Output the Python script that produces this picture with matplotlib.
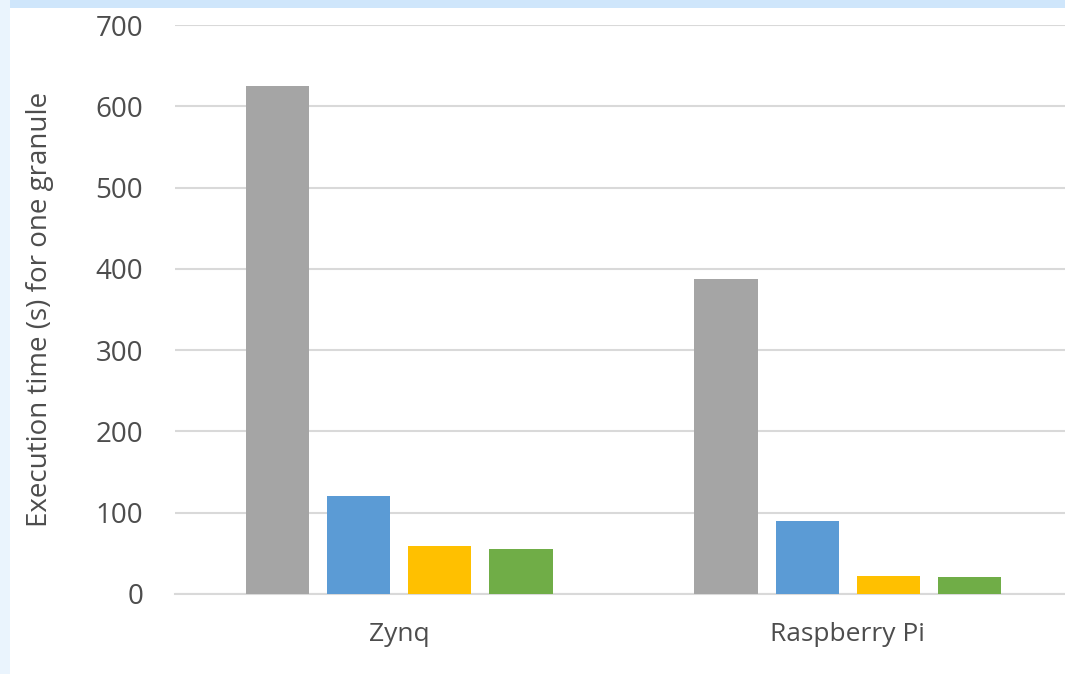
import matplotlib.pyplot as plt
from matplotlib.patches import Rectangle
import numpy as np

# data
categories = ['Zynq', 'Raspberry Pi']
series_gray = [625, 387]
series_blue = [120, 90]
series_yellow = [59, 22]
series_green = [55, 21]
yticks = [0, 100, 200, 300, 400, 500, 600, 700]

colors = ['#a5a5a5', '#5b9bd5', '#ffc000', '#70ad47']
series = [series_gray, series_blue, series_yellow, series_green]
text_color = '#4d4d4d'

plt.rcParams['font.family'] = ['Open Sans', 'DejaVu Sans']

fig = plt.figure(figsize=(10.65, 6.74), dpi=100)
fig.patch.set_facecolor('white')

# light blue border strips of the slide
fig.patches.append(Rectangle((0, 1 - 8/674), 1, 8/674, transform=fig.transFigure,
                             facecolor='#cfe6fb', edgecolor='none', zorder=0))
fig.patches.append(Rectangle((0, 0), 10/1065, 1, transform=fig.transFigure,
                             facecolor='#eaf4fd', edgecolor='none', zorder=0))

# axes: left edge at 175 px, right edge past the picture (chart is cropped)
ax = fig.add_axes([175/1065, (674-594)/674, (1072-175)/1065, (594-25)/674])

x = np.arange(len(categories))
width = 0.141
step = 0.181
for i, vals in enumerate(series):
    ax.bar(x + (i - 1.5) * step, vals, width, color=colors[i], zorder=3)

ax.set_xlim(-0.5, 1.5)
ax.set_ylim(0, 700)
ax.set_yticks(yticks)
ax.set_xticks(x)
ax.set_xticklabels(categories)
ax.yaxis.grid(True, color='#d9d9d9', linewidth=1.5, zorder=0)
ax.set_axisbelow(True)

for s in ['top', 'right', 'left']:
    ax.spines[s].set_visible(False)
ax.spines['bottom'].set_color('#d9d9d9')
ax.spines['bottom'].set_linewidth(1.5)

ax.tick_params(axis='y', length=0, pad=23, labelsize=20, labelcolor=text_color)
ax.tick_params(axis='x', length=0, pad=20, labelsize=19, labelcolor=text_color)

ax.set_ylabel('Execution time (s) for one granule', fontsize=20, color=text_color,
              va='center')
ax.yaxis.set_label_coords(-135/897, 0.5)

fig.savefig('out.png', dpi=100)
